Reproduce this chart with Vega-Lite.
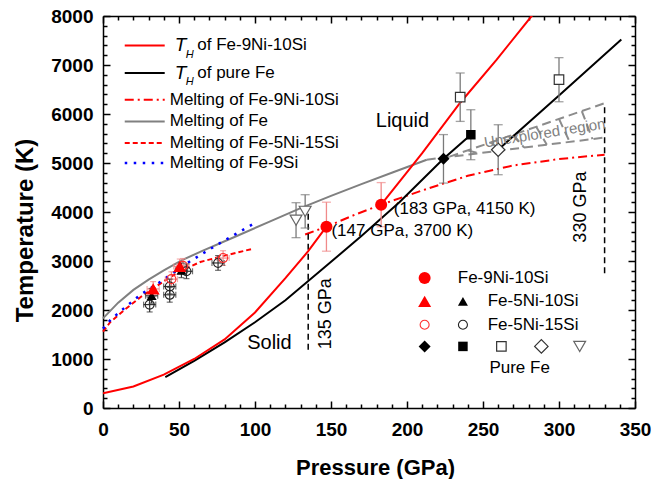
{
  "$schema": "https://vega.github.io/schema/vega-lite/v6.json",
  "width": 532,
  "height": 392,
  "autosize": {"type": "none"},
  "padding": {"left": 103, "top": 16, "right": 17, "bottom": 71},
  "background": "white",
  "config": {"view": {"stroke": null}, "font": "Liberation Sans", "axis": {"ticks": true, "tickOpacity": 1}, "text": {"font": "Liberation Sans", "color": "black"}},
  "datasets": {
    "thA": [
      {"P": 0, "T": 300, "s": "a"}, {"P": 20, "T": 440, "s": "a"}, {"P": 40, "T": 680, "s": "a"}, {"P": 60, "T": 1000, "s": "a"}, {"P": 80, "T": 1400, "s": "a"}, {"P": 100, "T": 1950, "s": "a"}, {"P": 120, "T": 2650, "s": "a"}, {"P": 135, "T": 3200, "s": "a"}, {"P": 147, "T": 3700, "s": "a"},
      {"P": 183, "T": 4150, "s": "b"}, {"P": 210, "T": 5200, "s": "b"}, {"P": 235, "T": 6230, "s": "b"}, {"P": 259, "T": 7110, "s": "b"}, {"P": 282, "T": 8000, "s": "b"}, {"P": 290, "T": 8300, "s": "b"},
      {"P": 14.3, "T": 7400, "s": "l"}, {"P": 40.6, "T": 7400, "s": "l"}
    ],
    "thF": [
      {"P": 41, "T": 630, "s": "a"}, {"P": 60, "T": 960, "s": "a"}, {"P": 80, "T": 1340, "s": "a"}, {"P": 100, "T": 1750, "s": "a"}, {"P": 120, "T": 2200, "s": "a"}, {"P": 145, "T": 2850, "s": "a"}, {"P": 170, "T": 3510, "s": "a"}, {"P": 195, "T": 4200, "s": "a"}, {"P": 224, "T": 5085, "s": "a"}, {"P": 242, "T": 5577, "s": "a"},
      {"P": 260, "T": 5271, "s": "b"}, {"P": 300, "T": 6380, "s": "b"}, {"P": 341, "T": 7520, "s": "b"},
      {"P": 14.3, "T": 6837, "s": "l"}, {"P": 40.6, "T": 6837, "s": "l"}
    ],
    "mA": [
      {"P": 133, "T": 3540, "s": "a"}, {"P": 147, "T": 3700, "s": "a"}, {"P": 165, "T": 3935, "s": "a"}, {"P": 183, "T": 4150, "s": "a"}, {"P": 210, "T": 4440, "s": "a"}, {"P": 240, "T": 4740, "s": "a"}, {"P": 270, "T": 4950, "s": "a"}, {"P": 300, "T": 5080, "s": "a"}, {"P": 330, "T": 5170, "s": "a"},
      {"P": 14.3, "T": 6292, "s": "l"}, {"P": 40.6, "T": 6292, "s": "l"}
    ],
    "mF": [
      {"P": 0, "T": 1830, "s": "a"}, {"P": 10, "T": 2150, "s": "a"}, {"P": 20, "T": 2410, "s": "a"}, {"P": 30, "T": 2620, "s": "a"}, {"P": 40, "T": 2810, "s": "a"}, {"P": 52, "T": 3020, "s": "a"}, {"P": 65, "T": 3200, "s": "a"}, {"P": 85, "T": 3470, "s": "a"}, {"P": 110, "T": 3810, "s": "a"}, {"P": 130, "T": 4080, "s": "a"}, {"P": 150, "T": 4330, "s": "a"}, {"P": 170, "T": 4570, "s": "a"}, {"P": 190, "T": 4800, "s": "a"}, {"P": 213, "T": 5067, "s": "a"},
      {"P": 14.3, "T": 5849, "s": "l"}, {"P": 40.6, "T": 5849, "s": "l"}
    ],
    "m5": [
      {"P": 0, "T": 1560, "s": "a"}, {"P": 5, "T": 1760, "s": "a"}, {"P": 14, "T": 2000, "s": "a"}, {"P": 25, "T": 2270, "s": "a"}, {"P": 35, "T": 2480, "s": "a"}, {"P": 42, "T": 2630, "s": "a"}, {"P": 52, "T": 2810, "s": "a"}, {"P": 64, "T": 2980, "s": "a"}, {"P": 80, "T": 3110, "s": "a"}, {"P": 98, "T": 3245, "s": "a"},
      {"P": 14.3, "T": 5408, "s": "l"}, {"P": 40.6, "T": 5408, "s": "l"}
    ],
    "m9": [
      {"P": 0, "T": 1620, "s": "a"}, {"P": 5, "T": 1800, "s": "a"}, {"P": 14, "T": 2040, "s": "a"}, {"P": 25, "T": 2320, "s": "a"}, {"P": 37, "T": 2560, "s": "a"}, {"P": 55, "T": 2950, "s": "a"}, {"P": 75, "T": 3330, "s": "a"}, {"P": 99, "T": 3760, "s": "a"},
      {"P": 14.3, "T": 5000, "s": "l"}, {"P": 40.6, "T": 5000, "s": "l"}
    ],
    "ux": [
      {"P": 213, "T": 5067, "P2": 330, "T2": 5520},
      {"P": 228, "T": 5130, "P2": 330, "T2": 6220},
      {"P": 240, "T": 5258, "P2": 247, "T2": 5199},
      {"P": 255, "T": 5419, "P2": 262, "T2": 5257},
      {"P": 270, "T": 5579, "P2": 277, "T2": 5315},
      {"P": 285, "T": 5739, "P2": 292, "T2": 5373},
      {"P": 300, "T": 5900, "P2": 307, "T2": 5431},
      {"P": 315, "T": 6060, "P2": 322, "T2": 5489}
    ],
    "vl": [
      {"P": 135, "T": 1190, "T2": 4000},
      {"P": 330, "T": 2750, "T2": 6220}
    ],
    "eGrey": [
      {"P": 224, "T": 5085, "e": 495}, {"P": 242, "T": 5577, "e": 510}, {"P": 235, "T": 6343, "e": 494}, {"P": 300, "T": 6700, "e": 450}, {"P": 260, "T": 5271, "e": 510}, {"P": 127, "T": 3833, "e": 357}, {"P": 133, "T": 4013, "e": 340}
    ],
    "ePinkBig": [
      {"P": 147, "T": 3700, "e": 500}, {"P": 183, "T": 4150, "e": 450}
    ],
    "ePinkV": [
      {"P": 33, "T": 2430, "e": 150}, {"P": 50.5, "T": 2890, "e": 150}, {"P": 45, "T": 2630, "e": 150}, {"P": 52.6, "T": 2900, "e": 150}, {"P": 79, "T": 3060, "e": 150}
    ],
    "ePinkH": [
      {"P": 33, "T": 2430, "e": 4}, {"P": 50.5, "T": 2890, "e": 4}, {"P": 45, "T": 2630, "e": 4}, {"P": 52.6, "T": 2900, "e": 4}, {"P": 79, "T": 3060, "e": 4}
    ],
    "eDarkV": [
      {"P": 32, "T": 2290, "e": 150}, {"P": 51.6, "T": 2810, "e": 150}, {"P": 30.7, "T": 2110, "e": 150}, {"P": 43.9, "T": 2310, "e": 150}, {"P": 43.9, "T": 2480, "e": 150}, {"P": 54.9, "T": 2790, "e": 150}, {"P": 75.7, "T": 2960, "e": 150}
    ],
    "eDarkH": [
      {"P": 32, "T": 2290, "e": 4}, {"P": 51.6, "T": 2810, "e": 4}, {"P": 30.7, "T": 2110, "e": 4}, {"P": 43.9, "T": 2310, "e": 4}, {"P": 43.9, "T": 2480, "e": 4}, {"P": 54.9, "T": 2790, "e": 4}, {"P": 75.7, "T": 2960, "e": 4}
    ],
    "pRedDot": [{"P": 147, "T": 3700}, {"P": 183, "T": 4150}, {"P": 211.6, "T": 2655}],
    "pRedTri": [{"P": 33, "T": 2430}, {"P": 50.5, "T": 2890}, {"P": 211.6, "T": 2176}],
    "pBlkTri": [{"P": 32, "T": 2290}, {"P": 51.6, "T": 2810}, {"P": 236.8, "T": 2176}],
    "pRedCirc": [{"P": 45, "T": 2630}, {"P": 52.6, "T": 2900}, {"P": 79, "T": 3060}, {"P": 211.6, "T": 1700}],
    "pBlkCirc": [{"P": 30.7, "T": 2110}, {"P": 43.9, "T": 2310}, {"P": 43.9, "T": 2480}, {"P": 54.9, "T": 2790}, {"P": 75.7, "T": 2960}, {"P": 236.8, "T": 1700}],
    "pBlkDia": [{"P": 224, "T": 5085}, {"P": 211.6, "T": 1257}],
    "pBlkSq": [{"P": 242, "T": 5577}, {"P": 236.8, "T": 1257}],
    "pOpenSq": [{"P": 235, "T": 6343}, {"P": 300, "T": 6700}, {"P": 262.1, "T": 1257}],
    "pOpenDia": [{"P": 260, "T": 5271}, {"P": 288.4, "T": 1257}],
    "pOpenTri": [{"P": 127, "T": 3833}, {"P": 133, "T": 4013}, {"P": 313.6, "T": 1257}],
    "txtL": [
      {"P": 62, "T": 7400, "t": "of Fe-9Ni-10Si"},
      {"P": 62, "T": 6837, "t": "of pure Fe"},
      {"P": 43.9, "T": 6292, "t": "Melting of Fe-9Ni-10Si"},
      {"P": 43.9, "T": 5849, "t": "Melting of Fe"},
      {"P": 43.9, "T": 5408, "t": "Melting of Fe-5Ni-15Si"},
      {"P": 43.9, "T": 5000, "t": "Melting of Fe-9Si"},
      {"P": 233.4, "T": 2655, "t": "Fe-9Ni-10Si"},
      {"P": 253.1, "T": 2176, "t": "Fe-5Ni-10Si"},
      {"P": 253.1, "T": 1700, "t": "Fe-5Ni-15Si"},
      {"P": 150.3, "T": 3604, "t": "(147 GPa, 3700 K)"},
      {"P": 191.3, "T": 4067, "t": "(183 GPa, 4150 K)"}
    ],
    "txtC": [
      {"P": 197, "T": 5849, "t": "Liquid"},
      {"P": 109.5, "T": 1327, "t": "Solid"}
    ],
    "txtPure": [{"P": 274.1, "T": 822, "t": "Pure Fe"}],
    "txtT": [{"P": 47.2, "T": 7400, "t": "T"}, {"P": 47.2, "T": 6837, "t": "T"}],
    "txtH": [{"P": 54.4, "T": 7210, "t": "H"}, {"P": 54.4, "T": 6643, "t": "H"}],
    "txtRot": [{"P": 147, "T": 1925, "t": "135 GPa"}, {"P": 314.7, "T": 4100, "t": "330 GPa"}],
    "txtUx": [{"P": 290.6, "T": 5612, "t": "Unexplored region"}]
  },
  "layer": [
    {
      "encoding": {
        "x": {
          "field": "P", "type": "quantitative",
          "scale": {"domain": [0, 350], "nice": false, "zero": false},
          "axis": {
            "orient": "bottom",
            "ticks": true,
            "values": [0,10,20,30,40,50,60,70,80,90,100,110,120,130,140,150,160,170,180,190,200,210,220,230,240,250,260,270,280,290,300,310,320,330,340,350],
            "labelExpr": "datum.value % 50 === 0 ? datum.label : ''",
            "tickSize": {"expr": "datum.value % 50 === 0 ? -7 : -4"},
            "tickWidth": 1.5, "tickColor": "black",
            "domainColor": "black", "domainWidth": 1.5,
            "labelFont": "Liberation Sans", "labelFontSize": 19, "labelFontWeight": "bold", "labelColor": "black",
            "labelPadding": 19, "labelOverlap": false, "labelFlush": false,
            "grid": false,
            "title": "Pressure (GPa)", "titleFont": "Liberation Sans", "titleFontSize": 22, "titleFontWeight": "bold", "titleColor": "black",
            "titleX": 272, "titleY": 59, "titleBaseline": "middle"
          }
        },
        "y": {
          "field": "T", "type": "quantitative",
          "scale": {"domain": [0, 8000], "nice": false, "zero": false},
          "axis": {
            "orient": "left",
            "ticks": true,
            "values": [0,200,400,600,800,1000,1200,1400,1600,1800,2000,2200,2400,2600,2800,3000,3200,3400,3600,3800,4000,4200,4400,4600,4800,5000,5200,5400,5600,5800,6000,6200,6400,6600,6800,7000,7200,7400,7600,7800,8000],
            "labelExpr": "datum.value % 1000 === 0 ? datum.label : ''",
            "format": "d",
            "tickSize": {"expr": "datum.value % 1000 === 0 ? -7 : -4"},
            "tickWidth": 1.5, "tickColor": "black",
            "domainColor": "black", "domainWidth": 1.5,
            "labelFont": "Liberation Sans", "labelFontSize": 19, "labelFontWeight": "bold", "labelColor": "black",
            "labelPadding": 17, "labelOverlap": false, "labelFlush": false,
            "grid": false,
            "title": "Temperature (K)", "titleFont": "Liberation Sans", "titleFontSize": 24, "titleFontWeight": "bold", "titleColor": "black",
            "titleX": -78, "titleY": 214, "titleBaseline": "middle", "titleAngle": -90
          }
        }
      },
      "layer": [
        {"data": {"name": "mF"}, "mark": {"type": "line", "color": "#808080", "strokeWidth": 2}, "encoding": {"detail": {"field": "s"}}},
        {"data": {"name": "ux"}, "mark": {"type": "rule", "color": "#8c8c8c", "strokeWidth": 2, "strokeDash": [9, 5]}, "encoding": {"x2": {"field": "P2"}, "y2": {"field": "T2"}}},
        {"data": {"name": "m5"}, "mark": {"type": "line", "color": "#ff0000", "strokeWidth": 2, "strokeDash": [5, 3]}, "encoding": {"detail": {"field": "s"}}},
        {"data": {"name": "m9"}, "mark": {"type": "line", "color": "#0000ff", "strokeWidth": 2.5, "strokeDash": [2.5, 6.5]}, "encoding": {"detail": {"field": "s"}}},
        {"data": {"name": "mA"}, "mark": {"type": "line", "color": "#ff0000", "strokeWidth": 2, "strokeDash": [9, 4, 2, 4]}, "encoding": {"detail": {"field": "s"}}},
        {"data": {"name": "vl"}, "mark": {"type": "rule", "color": "black", "strokeWidth": 1.5, "strokeDash": [6, 4]}, "encoding": {"y2": {"field": "T2"}}},
        {"data": {"name": "thF"}, "mark": {"type": "line", "color": "black", "strokeWidth": 2, "clip": true}, "encoding": {"detail": {"field": "s"}}},
        {"data": {"name": "thA"}, "mark": {"type": "line", "color": "#ff0000", "strokeWidth": 2, "clip": true}, "encoding": {"detail": {"field": "s"}}},
        {"data": {"name": "eGrey"}, "mark": {"type": "errorbar", "color": "#7a7a7a", "thickness": 1.3, "ticks": {"size": 9}}, "encoding": {"yError": {"field": "e"}}},
        {"data": {"name": "ePinkBig"}, "mark": {"type": "errorbar", "color": "#f08a8a", "thickness": 1.3, "ticks": {"size": 9}}, "encoding": {"yError": {"field": "e"}}},
        {"data": {"name": "ePinkV"}, "mark": {"type": "errorbar", "color": "#f08a8a", "thickness": 1.2, "ticks": {"size": 6}}, "encoding": {"yError": {"field": "e"}}},
        {"data": {"name": "ePinkH"}, "mark": {"type": "errorbar", "color": "#f08a8a", "thickness": 1.2, "ticks": {"size": 6}}, "encoding": {"xError": {"field": "e"}}},
        {"data": {"name": "eDarkV"}, "mark": {"type": "errorbar", "color": "#333333", "thickness": 1.2, "ticks": {"size": 6}}, "encoding": {"yError": {"field": "e"}}},
        {"data": {"name": "eDarkH"}, "mark": {"type": "errorbar", "color": "#333333", "thickness": 1.2, "ticks": {"size": 6}}, "encoding": {"xError": {"field": "e"}}},
        {"data": {"name": "pBlkCirc"}, "mark": {"type": "point", "shape": "circle", "filled": false, "stroke": "#222222", "strokeWidth": 1.1, "size": 81, "opacity": 1}},
        {"data": {"name": "pRedCirc"}, "mark": {"type": "point", "shape": "circle", "filled": false, "stroke": "#ff3030", "strokeWidth": 1.1, "size": 81, "opacity": 1}},
        {"data": {"name": "pBlkTri"}, "mark": {"type": "point", "shape": "triangle-up", "filled": true, "fill": "black", "strokeWidth": 0, "size": 100, "opacity": 1}},
        {"data": {"name": "pRedTri"}, "mark": {"type": "point", "shape": "triangle-up", "filled": true, "fill": "#ff0000", "strokeWidth": 0, "size": 169, "opacity": 1}},
        {"data": {"name": "pRedDot"}, "mark": {"type": "point", "shape": "circle", "filled": true, "fill": "#ff0000", "strokeWidth": 0, "size": 144, "opacity": 1}},
        {"data": {"name": "pBlkDia"}, "mark": {"type": "point", "shape": "diamond", "filled": true, "fill": "black", "strokeWidth": 0, "size": 144, "opacity": 1}},
        {"data": {"name": "pBlkSq"}, "mark": {"type": "point", "shape": "square", "filled": true, "fill": "black", "strokeWidth": 0, "size": 90, "opacity": 1}},
        {"data": {"name": "pOpenSq"}, "mark": {"type": "point", "shape": "square", "filled": true, "fill": "white", "stroke": "#333333", "strokeWidth": 1.2, "size": 90, "opacity": 1}},
        {"data": {"name": "pOpenDia"}, "mark": {"type": "point", "shape": "diamond", "filled": true, "fill": "white", "stroke": "#333333", "strokeWidth": 1.2, "size": 180, "opacity": 1}},
        {"data": {"name": "pOpenTri"}, "mark": {"type": "point", "shape": "triangle-down", "filled": true, "fill": "white", "stroke": "#666666", "strokeWidth": 1.2, "size": 140, "opacity": 1}},
        {"data": {"name": "txtL"}, "mark": {"type": "text", "align": "left", "baseline": "middle", "fontSize": 17, "font": "Liberation Sans", "color": "black"}, "encoding": {"text": {"field": "t"}}},
        {"data": {"name": "txtC"}, "mark": {"type": "text", "align": "center", "baseline": "middle", "fontSize": 20, "font": "Liberation Sans", "color": "black"}, "encoding": {"text": {"field": "t"}}},
        {"data": {"name": "txtPure"}, "mark": {"type": "text", "align": "center", "baseline": "middle", "fontSize": 17, "font": "Liberation Sans", "color": "black"}, "encoding": {"text": {"field": "t"}}},
        {"data": {"name": "txtT"}, "mark": {"type": "text", "align": "left", "baseline": "middle", "fontSize": 19, "fontStyle": "italic", "font": "Liberation Sans", "color": "black"}, "encoding": {"text": {"field": "t"}}},
        {"data": {"name": "txtH"}, "mark": {"type": "text", "align": "left", "baseline": "middle", "fontSize": 11, "fontStyle": "italic", "font": "Liberation Sans", "color": "black"}, "encoding": {"text": {"field": "t"}}},
        {"data": {"name": "txtRot"}, "mark": {"type": "text", "align": "center", "baseline": "middle", "angle": 270, "fontSize": 18, "font": "Liberation Sans", "color": "black"}, "encoding": {"text": {"field": "t"}}},
        {"data": {"name": "txtUx"}, "mark": {"type": "text", "align": "center", "baseline": "middle", "angle": 351, "fontSize": 15, "font": "Liberation Sans", "color": "#808080"}, "encoding": {"text": {"field": "t"}}}
      ]
    },
    {
      "data": {"values": [{"P": 0, "T": 0}]},
      "mark": {"type": "point", "opacity": 0},
      "encoding": {
        "x": {
          "field": "P", "type": "quantitative",
          "scale": {"domain": [0, 350], "nice": false, "zero": false},
          "axis": {
            "orient": "top",
            "ticks": true,
            "values": [0,10,20,30,40,50,60,70,80,90,100,110,120,130,140,150,160,170,180,190,200,210,220,230,240,250,260,270,280,290,300,310,320,330,340,350],
            "labels": false,
            "tickSize": {"expr": "datum.value % 50 === 0 ? -7 : -4"},
            "tickWidth": 1.5, "tickColor": "black", "domainColor": "black", "domainWidth": 1.5, "grid": false, "title": null
          }
        },
        "y": {
          "field": "T", "type": "quantitative",
          "scale": {"domain": [0, 8000], "nice": false, "zero": false},
          "axis": {
            "orient": "right",
            "ticks": true,
            "values": [0,200,400,600,800,1000,1200,1400,1600,1800,2000,2200,2400,2600,2800,3000,3200,3400,3600,3800,4000,4200,4400,4600,4800,5000,5200,5400,5600,5800,6000,6200,6400,6600,6800,7000,7200,7400,7600,7800,8000],
            "labels": false,
            "tickSize": {"expr": "datum.value % 1000 === 0 ? -7 : -4"},
            "tickWidth": 1.5, "tickColor": "black", "domainColor": "black", "domainWidth": 1.5, "grid": false, "title": null
          }
        }
      }
    }
  ],
  "resolve": {"axis": {"x": "independent", "y": "independent"}}
}
